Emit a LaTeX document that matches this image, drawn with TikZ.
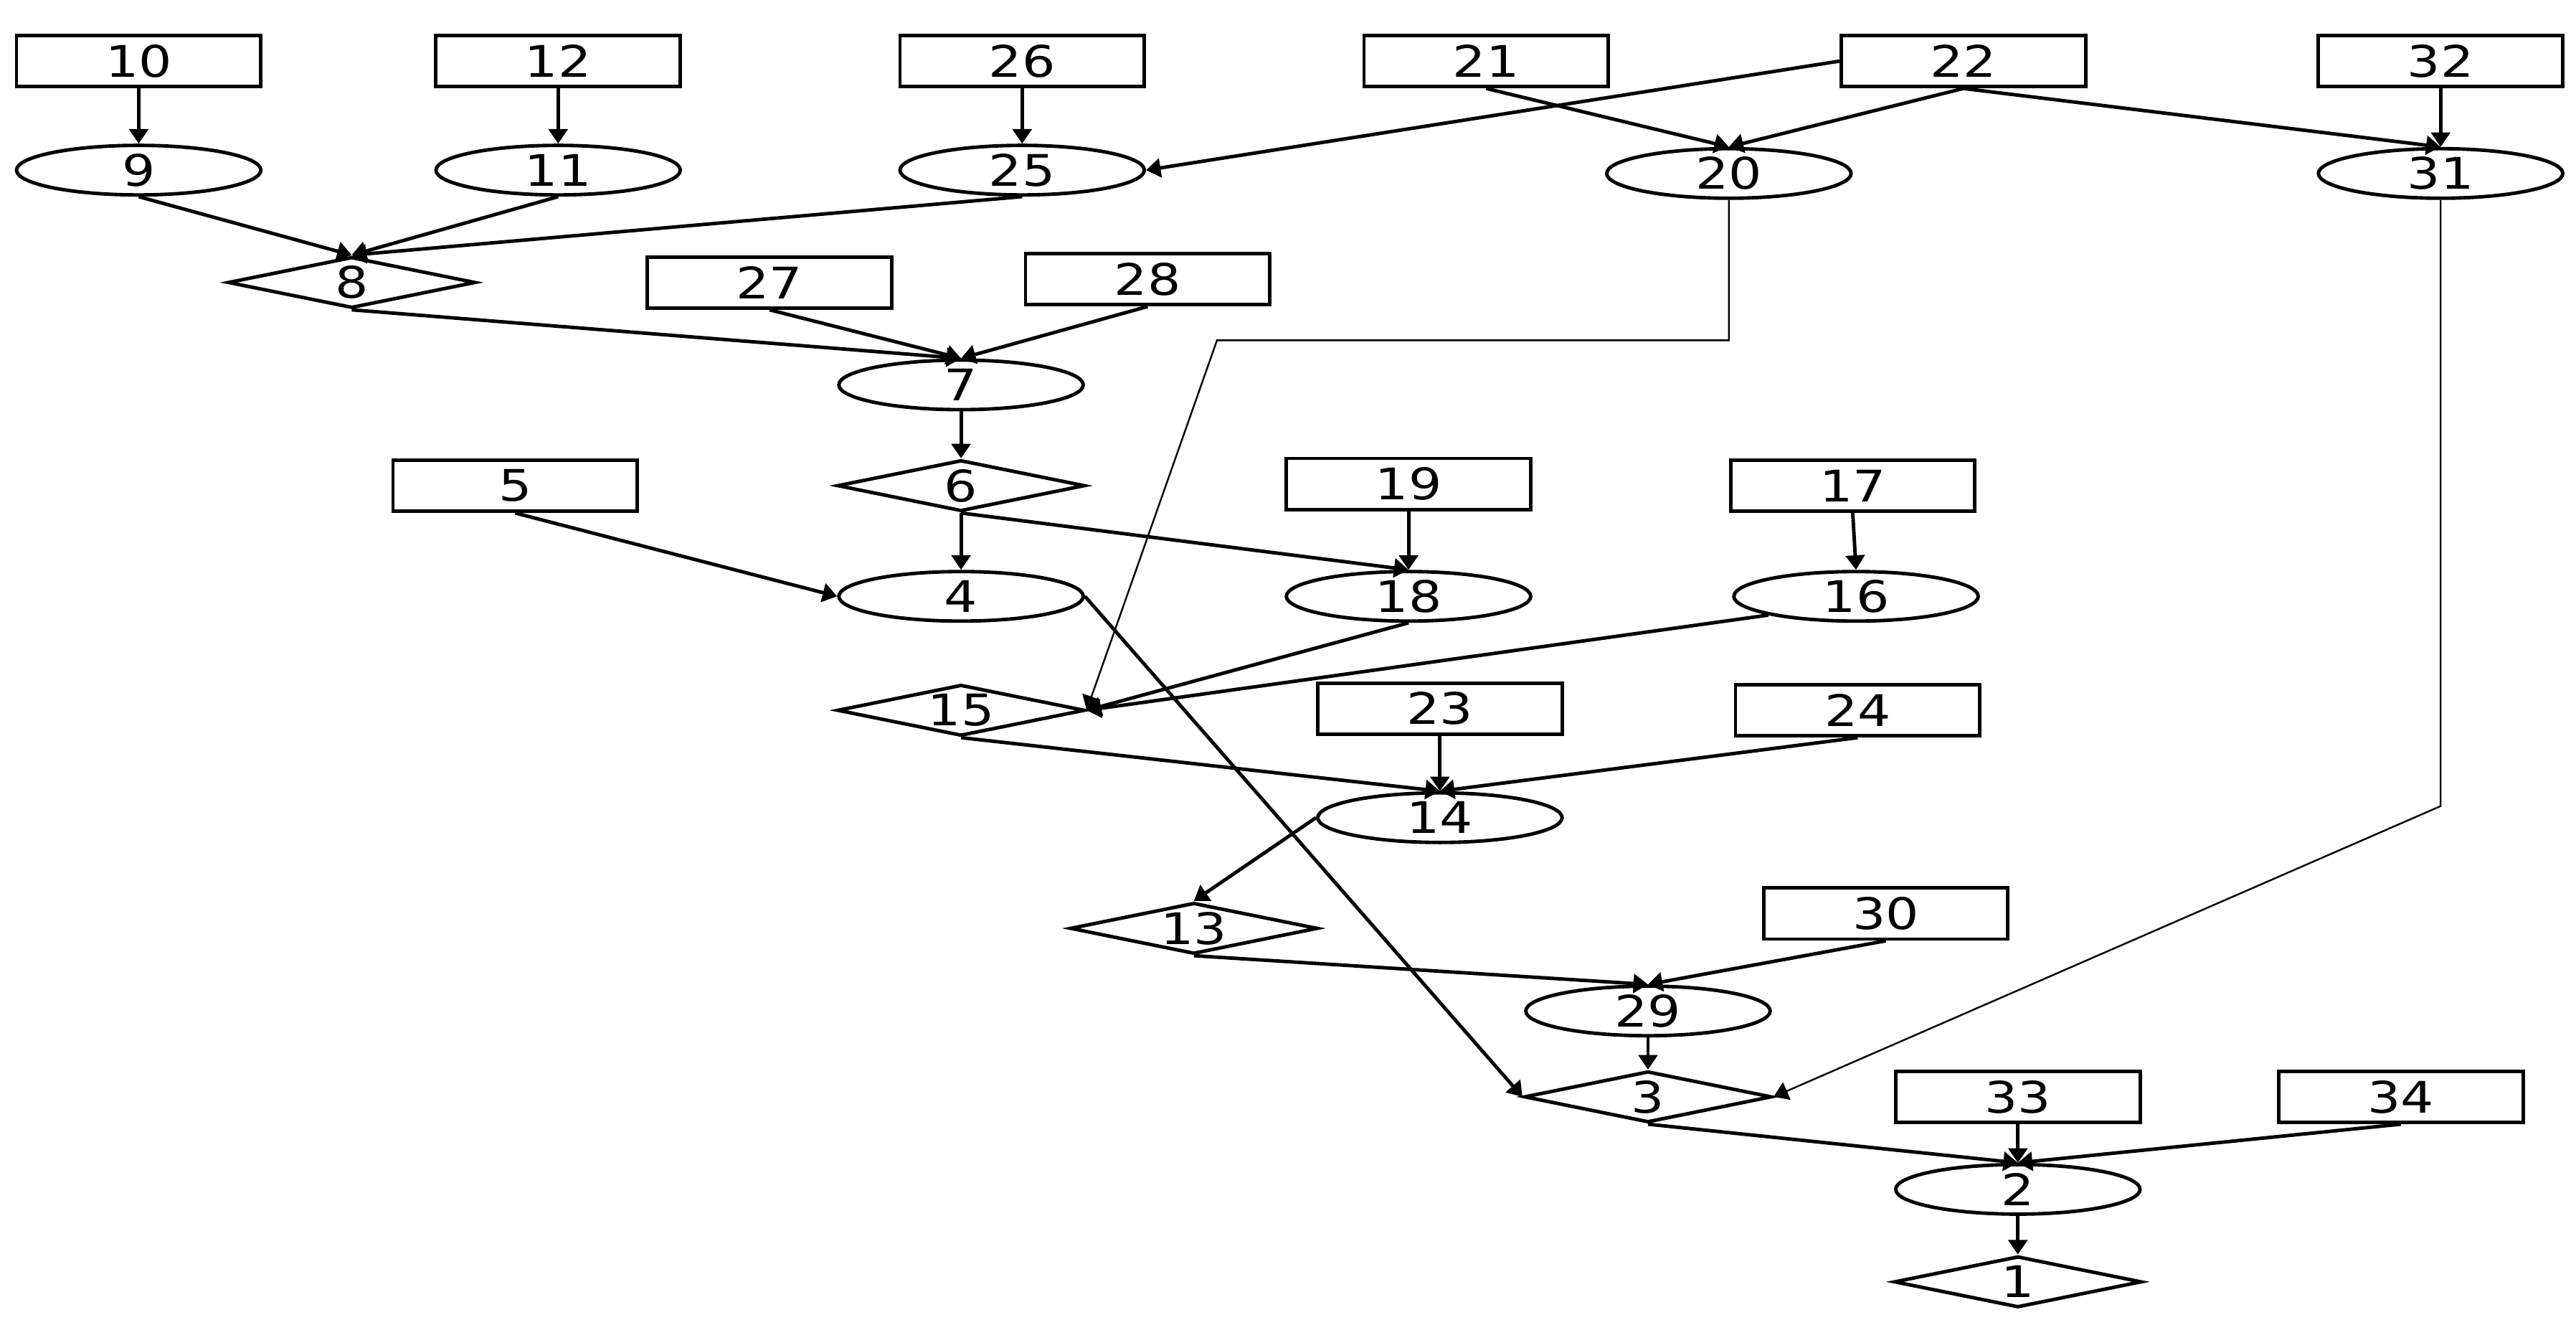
\documentclass[tikz,border=0pt]{standalone}
\usepackage{fontspec}
\setmainfont{DejaVu Sans}[FakeStretch=1.2]
\usetikzlibrary{shapes.geometric,arrows.meta}

\begin{document}
\begin{tikzpicture}[x=0.02cm,y=-0.02cm,
  box/.style={draw,line width=1.2pt,minimum width=2.96cm,minimum height=0.62cm,inner sep=0pt},
  oval/.style={draw,ellipse,line width=1.2pt,minimum width=2.96cm,minimum height=0.6cm,inner sep=0pt},
  gate/.style={draw,diamond,line width=1.2pt,shape aspect=4.8,minimum width=3cm,minimum height=0.62cm,inner sep=0pt},
  link/.style={-{Triangle[length=5pt,width=6.5pt]},line width=1.2pt},
  route/.style={-{Triangle[length=5pt,width=6.5pt]},line width=0.6pt},
  font=\fontsize{15}{17}\selectfont]
\useasboundingbox (0,0) rectangle (1560,799);

% top row
\node[box] (n10) at (84,37) {10};
\node[box] (n12) at (338,37) {12};
\node[box] (n26) at (619,37) {26};
\node[box] (n21) at (900,37) {21};
\node[box] (n22) at (1189,37) {22};
\node[box] (n32) at (1478,37) {32};

\node[oval] (n9) at (84,103) {9};
\node[oval] (n11) at (338,103) {11};
\node[oval] (n25) at (619,103) {25};
\node[oval] (n20) at (1047,105) {20};
\node[oval] (n31) at (1478,105) {31};

\node[gate] (n8) at (213,171) {8};
\node[box] (n27) at (466,171) {27};
\node[box] (n28) at (695,169) {28};
\node[oval] (n7) at (582,233) {7};
\node[gate] (n6) at (582,294) {6};

% middle
\node[box] (n5) at (312,294) {5};
\node[box] (n19) at (853,293) {19};
\node[box] (n17) at (1122,294) {17};
\node[oval] (n4) at (582,361) {4};
\node[oval] (n18) at (853,361) {18};
\node[oval] (n16) at (1124,361) {16};
\node[gate] (n15) at (582,430) {15};
\node[box] (n23) at (872,429) {23};
\node[box] (n24) at (1125,430) {24};
\node[oval] (n14) at (872,495) {14};
\node[gate] (n13) at (723,562) {13};

% bottom
\node[box] (n30) at (1142,553) {30};
\node[oval] (n29) at (998,612) {29};
\node[gate] (n3) at (998,664) {3};
\node[box] (n33) at (1222,664) {33};
\node[box] (n34) at (1454,664) {34};
\node[oval] (n2) at (1222,720) {2};
\node[gate] (n1) at (1222,776) {1};

\coordinate (c20a) at (1047,206);
\coordinate (c20b) at (737,206);
\coordinate (c31) at (1478,488);

\draw[link] (n10) -- (n9);
\draw[link] (n12) -- (n11);
\draw[link] (n26) -- (n25);
\draw[link] (n32) -- (n31);
\draw[link] (n21.south) -- (n20.north);
\draw[link] (n22.south) -- (n20.north);
\draw[link] (n22.south) -- (n31.north);
\draw[link] (n22.west) -- (n25.east);

\draw[link] (n9.south) -- (n8.north);
\draw[link] (n11.south) -- (n8.north);
\draw[link] (n25.south) -- (n8.north);
\draw[link] (n8.south) -- (n7.north);
\draw[link] (n27.south) -- (n7.north);
\draw[link] (n28.south) -- (n7.north);
\draw[link] (n7) -- (n6);
\draw[link] (n6) -- (n4);
\draw[link] (n6.south) -- (n18.north);
\draw[link] (n19) -- (n18);
\draw[link] (n17.south) -- (n16.north);
\draw[link] (n5.south) -- (n4.west);

\draw[link] (n18.south) -- (n15.east);
\draw[link] (n16.south west) -- (n15.east);
\draw[route] (n20.south) -- (c20a) -- (c20b) -- (n15.east);
\draw[link] (n15.south) -- (n14.north);
\draw[link] (n23) -- (n14);
\draw[link] (n24.south) -- (n14.north);
\draw[link] (n14.west) -- (n13.north);

\draw[link] (n13.south) -- (n29.north);
\draw[link] (n30.south) -- (n29.north);
\draw[link] (n29) -- (n3);
\draw[link] (n4.east) -- (n3.west);
\draw[route] (n31.south) -- (c31) -- (n3.east);
\draw[link] (n3.south) -- (n2.north);
\draw[link] (n33) -- (n2);
\draw[link] (n34.south) -- (n2.north);
\draw[link] (n2) -- (n1);

\end{tikzpicture}
\end{document}
